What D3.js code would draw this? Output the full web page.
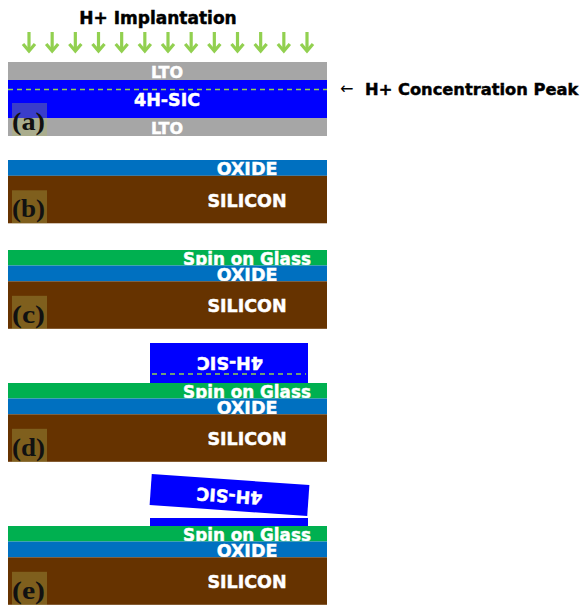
<!DOCTYPE html>
<html><head><meta charset="utf-8">
<script src="https://cdn.jsdelivr.net/npm/d3@7"></script>
<style>html,body{margin:0;padding:0;background:#fff}</style>
</head><body>
<svg id="fig" width="588" height="606"></svg>
<script>
// Process flow: H+ implantation of 4H-SiC, bonding onto an oxidised Si wafer, and splitting.
const panelLabels = ["(a)", "(b)", "(c)", "(d)", "(e)"];
const stackA = ["LTO", "4H-SIC", "LTO"];
const stackB = ["OXIDE", "SILICON"];
const stackC = ["Spin on Glass", "OXIDE", "SILICON"];
const stackD = ["Spin on Glass", "OXIDE", "SILICON"];
const stackE = ["Spin on Glass", "OXIDE", "SILICON"];
const implantArrows = d3.range(13);
const titleText = "H+ Implantation";
const peakText = "H+ Concentration Peak";
const donorText = "4H-SIC";

const fill = {
  "LTO": "#a6a6a6", "4H-SIC": "#0000ff", "OXIDE": "#0070c0",
  "SILICON": "#663300", "Spin on Glass": "#00b050"
};
const depth = {
  "LTO": 18, "4H-SIC": 38, "OXIDE": 15.8, "SILICON": 47.5, "Spin on Glass": 15.5
};
const fontSize = { "LTO": 16, "4H-SIC": 17.5, "OXIDE": 17.5, "SILICON": 17.5, "Spin on Glass": 16.8 };

const svg = d3.select("#fig");
const defs = svg.append("defs");
const x = d3.scaleLinear().domain([0, 1]).range([8, 327]);
const SANS = "'DejaVu Sans', Verdana, sans-serif";
const GREEN = "#92d050";

// bold sans labels, thickened slightly with a stroke of their own colour
function heavy(sel, colour) {
  return sel.attr("font-family", SANS).attr("font-weight", "bold")
    .attr("fill", colour).attr("stroke", colour).attr("stroke-width", 0.45);
}

let clipId = 0;
function drawStack(names, top, labelX) {
  let y = top;
  const g = svg.append("g");
  names.forEach(n => {
    const h = depth[n];
    g.append("rect").attr("x", x(0)).attr("y", y).attr("width", x(1) - x(0)).attr("height", h)
      .attr("fill", fill[n]);
    const id = "clip" + (clipId++);
    defs.append("clipPath").attr("id", id).append("rect")
      .attr("x", x(0)).attr("y", y).attr("width", x(1) - x(0)).attr("height", h);
    const fs = fontSize[n];
    heavy(g.append("text").attr("clip-path", `url(#${id})`)
      .attr("x", labelX).attr("y", y + h / 2 + fs * 0.36 + 1)
      .attr("text-anchor", "middle").attr("font-size", fs), "#fff")
      .text(n);
    y += h;
  });
  return y;
}

function panelTag(label, bottom) {
  svg.append("rect").attr("x", 12).attr("y", bottom - 33).attr("width", 35).attr("height", 33)
    .attr("fill", "rgb(180,190,90)").attr("fill-opacity", 0.32);
  svg.append("text").attr("x", 12).attr("y", bottom - 6)
    .attr("font-family", "'Liberation Serif', 'Times New Roman', serif")
    .attr("font-weight", "bold").attr("font-size", 25).attr("fill", "#111")
    .attr("textLength", 33).attr("lengthAdjust", "spacingAndGlyphs")
    .text(label);
}

function dashed(x0, x1, y) {
  svg.append("line").attr("x1", x0).attr("x2", x1).attr("y1", y).attr("y2", y)
    .attr("stroke", GREEN).attr("stroke-width", 1.5).attr("stroke-dasharray", "5,4");
}

// (a) implantation
heavy(svg.append("text").attr("x", 158).attr("y", 24).attr("text-anchor", "middle")
  .attr("font-size", 17), "#000")
  .text(titleText);

const ax = d3.scalePoint().domain(implantArrows).range([29, 307]);
const arrows = svg.append("g").attr("stroke", GREEN).attr("stroke-width", 3.2)
  .attr("fill", "none").attr("stroke-linecap", "butt");
implantArrows.forEach(i => {
  const cx = ax(i);
  arrows.append("line").attr("x1", cx).attr("x2", cx).attr("y1", 32).attr("y2", 51);
  arrows.append("path").attr("d", `M${cx - 6},${44} L${cx},${51} L${cx + 6},${44}`);
});

const aBottom = drawStack(stackA, 62, 167);
dashed(x(0), x(1), 89.5);
panelTag(panelLabels[0], aBottom);

svg.append("text").attr("x", 340).attr("y", 94)
  .attr("font-family", SANS).attr("font-size", 16).attr("fill", "#000").text("\u2190");
heavy(svg.append("text").attr("x", 365).attr("y", 95).attr("font-size", 16.3), "#000")
  .text(peakText);

// (b) oxidised silicon handle
panelTag(panelLabels[1], drawStack(stackB, 160, 247));

// (c) spin-on-glass coating
panelTag(panelLabels[2], drawStack(stackC, 250, 247));

// (d) flipped SiC bonded on the glass
const donorX0 = 150, donorX1 = 308;
svg.append("rect").attr("x", donorX0).attr("y", 343).attr("width", donorX1 - donorX0).attr("height", 40)
  .attr("fill", fill["4H-SIC"]);
dashed(donorX0 + 2, donorX1 - 2, 374);
heavy(svg.append("text").attr("transform", "translate(230,362.5) rotate(180)")
  .attr("text-anchor", "middle").attr("dominant-baseline", "central")
  .attr("font-size", 17.5), "#fff")
  .text(donorText);
panelTag(panelLabels[3], drawStack(stackD, 383, 247));

// (e) split at the H+ peak: thin SiC film stays, the rest lifts off
svg.append("rect").attr("x", donorX0).attr("y", 518).attr("width", donorX1 - donorX0).attr("height", 8)
  .attr("fill", fill["4H-SIC"]);
const lift = svg.append("g").attr("transform", "translate(229.5,495) rotate(4)");
lift.append("rect").attr("x", -79).attr("y", -15.5).attr("width", 158).attr("height", 31)
  .attr("fill", fill["4H-SIC"]);
heavy(lift.append("text").attr("transform", "translate(0,1) rotate(180)")
  .attr("text-anchor", "middle").attr("dominant-baseline", "central")
  .attr("font-size", 17.5), "#fff")
  .text(donorText);
panelTag(panelLabels[4], drawStack(stackE, 526, 247));
</script>
</body></html>
